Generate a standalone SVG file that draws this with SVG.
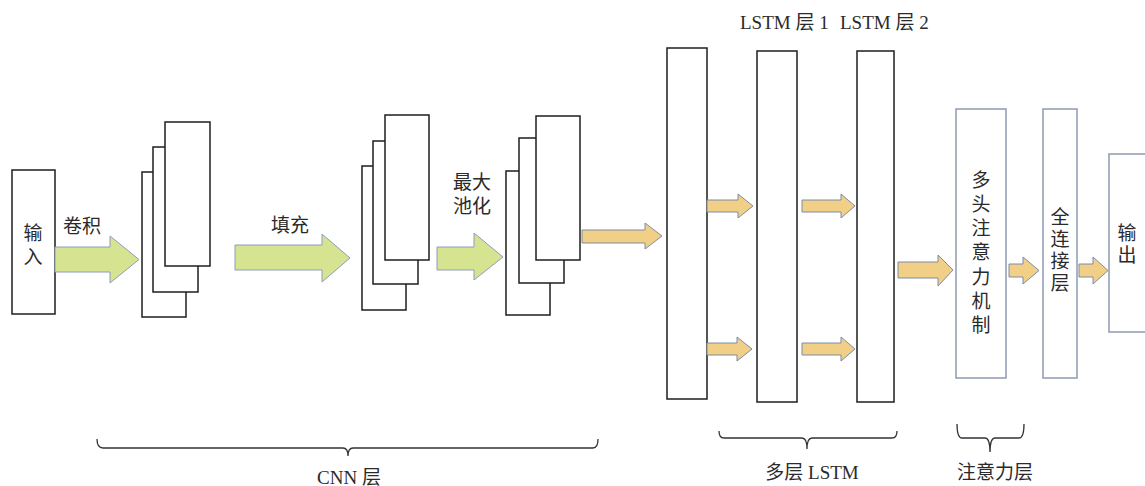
<svg xmlns="http://www.w3.org/2000/svg" width="1145" height="486" viewBox="0 0 1145 486">
<style>
.blk{fill:#fff;stroke:#1e1e1e;stroke-width:1.5}
.blu{fill:#fff;stroke:#8d9bb0;stroke-width:1.5}
.g{fill:#d6e390;stroke:#8c9cc0;stroke-width:1}
.o{fill:#f1cf86;stroke:#7d8ca8;stroke-width:1}
.br{fill:none;stroke:#333;stroke-width:1.3}
text{font-family:"Liberation Serif","Noto Sans CJK SC",serif;fill:#2a2a2a;font-size:19px}
.c{text-anchor:middle}
.v{font-size:19px;text-anchor:middle}
</style>
<rect width="1145" height="486" fill="#fff"/>
<g id="input"><rect class="blk" x="12" y="170" width="43" height="144"/><text class="v" x="33" y="240">输</text><text class="v" x="33" y="264">入</text></g>
<g id="conv-stack"><rect class="blk" x="142" y="172" width="44" height="145"/><rect class="blk" x="153" y="147" width="45" height="145"/><rect class="blk" x="165" y="122" width="45" height="144"/></g>
<g id="pad-stack"><rect class="blk" x="362" y="166" width="44" height="144"/><rect class="blk" x="373" y="141" width="45" height="143"/><rect class="blk" x="385" y="115" width="44" height="145"/></g>
<g id="pool-stack"><rect class="blk" x="506" y="171" width="44" height="144"/><rect class="blk" x="519" y="138" width="45" height="145"/><rect class="blk" x="536" y="116" width="44" height="144"/></g>
<g id="lstm-in"><rect class="blk" x="667" y="48" width="40" height="351"/></g>
<g id="lstm1"><rect class="blk" x="757" y="51" width="40" height="351"/></g>
<g id="lstm2"><rect class="blk" x="857" y="51" width="37" height="351"/></g>
<g id="attention"><rect class="blu" x="956" y="109" width="50" height="269"/>
<text class="v" x="981" y="187">多</text><text class="v" x="981" y="211">头</text><text class="v" x="981" y="235">注</text><text class="v" x="981" y="259">意</text><text class="v" x="981" y="284">力</text><text class="v" x="981" y="308">机</text><text class="v" x="981" y="332">制</text></g>
<g id="fc"><rect class="blu" x="1043" y="109" width="34" height="269"/>
<text class="v" x="1060" y="224">全</text><text class="v" x="1060" y="246">连</text><text class="v" x="1060" y="268">接</text><text class="v" x="1060" y="290">层</text></g>
<g id="output"><rect class="blu" x="1109" y="154" width="45" height="178"/><text class="v" x="1127" y="240">输</text><text class="v" x="1127" y="262">出</text></g>
<g id="connectors">
<polygon class="g" points="55,247 110,247 110,236 139,259.5 110,283 110,272 55,272"/>
<polygon class="g" points="235,245 322,245 322,234 350,258 322,282 322,270 235,270"/>
<polygon class="g" points="437,247 474,247 474,233 503,257 474,280 474,270 437,270"/>
<polygon class="o" points="582,230 645,230 645,223 662,236 645,249 645,243 582,243"/>
<polygon class="o" points="707,200 738,200 738,194 753,206 738,218 738,212 707,212"/>
<polygon class="o" points="802,200 841,200 841,194 855,206 841,218 841,212 802,212"/>
<polygon class="o" points="707,343 737,343 737,337 752,349 737,361 737,355 707,355"/>
<polygon class="o" points="802,343 841,343 841,337 855,349 841,361 841,355 802,355"/>
<polygon class="o" points="898,262 938,262 938,255 953,270 938,286 938,278 898,278"/>
<polygon class="o" points="1009,264 1023,264 1023,257 1039,270.5 1023,284 1023,277 1009,277"/>
<polygon class="o" points="1079,264 1093,264 1093,257 1108,270.5 1093,284 1093,277 1079,277"/>
</g>
<g id="labels">
<text x="63" y="233">卷积</text>
<text x="271" y="232">填充</text>
<text x="453" y="189">最大</text>
<text x="453" y="213">池化</text>
<text x="740" y="29" font-size="17">LSTM 层 1</text>
<text x="840" y="29" font-size="17">LSTM 层 2</text>
</g>
<g id="braces">
<path class="br" d="M97,439 Q97,448 103,448 L343,448 Q348,448 348,456 Q348,448 353,448 L593,448 Q598,448 598,439"/>
<path class="br" d="M719,431 Q719,438 724,438 L802,438 Q807,438 807,449 Q807,438 812,438 L892,438 Q897,438 897,431"/>
<path class="br" d="M957,424 Q957,438 962,438 L985,438 Q990,438 990,452 Q990,438 995,438 L1019,438 Q1024,438 1024,424"/>
<text class="c" x="349" y="484" font-size="17">CNN 层</text>
<text class="c" x="812" y="479" font-size="17">多层 LSTM</text>
<text class="c" x="995" y="479" font-size="17">注意力层</text>
</g>
</svg>
